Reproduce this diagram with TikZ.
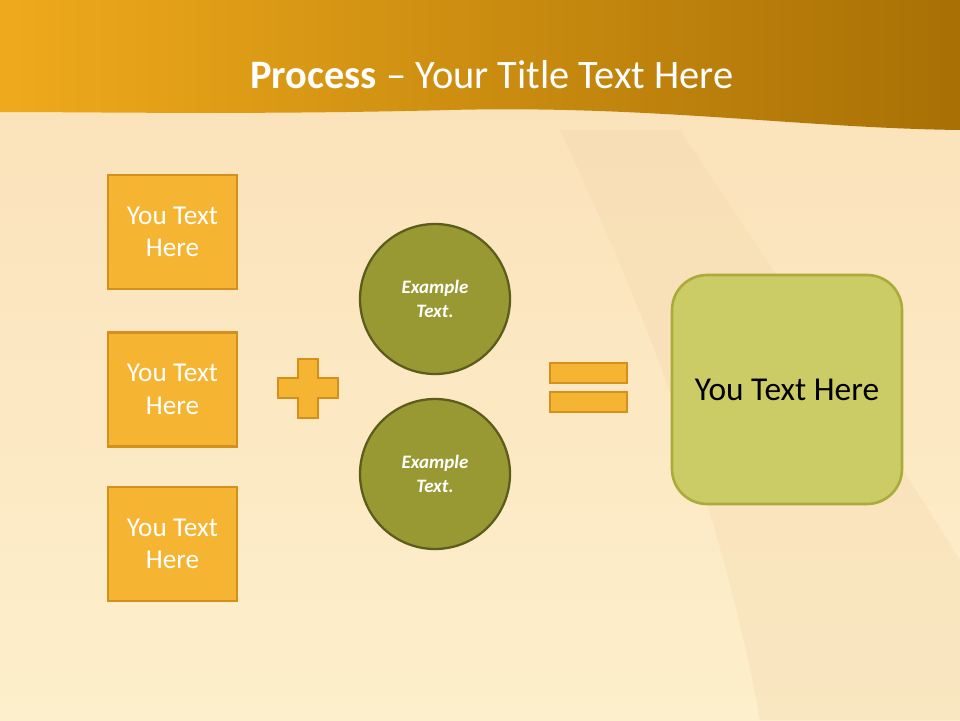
\documentclass[tikz,border=0pt]{standalone}
\usepackage{fontspec}
\setmainfont{Carlito}
\definecolor{bg}{HTML}{FDEFCB}
\definecolor{bg2}{HTML}{FAE0B8}
\definecolor{hdrA}{HTML}{EFAA1C}
\definecolor{hdrB}{HTML}{A87005}
\definecolor{boxf}{HTML}{F5B431}
\definecolor{boxd}{HTML}{D4901A}
\definecolor{olf}{HTML}{999933}
\definecolor{old}{HTML}{5C5C1C}
\definecolor{grf}{HTML}{CCCC66}
\definecolor{grd}{HTML}{ABAB3C}
\tikzset{
 ybox/.style={draw=boxd,line width=1.5pt,fill=boxf,minimum width=2.58cm,minimum height=2.28cm,text=white,font=\fontsize{15.5}{18.5}\selectfont,align=center},
 olc/.style={circle,draw=old,line width=1.3pt,fill=olf,minimum size=3cm,text=white,font=\fontsize{10.8}{13.5}\selectfont\bfseries\itshape,align=center},
 bar/.style={draw=boxd,line width=1.2pt,fill=boxf}
}
\begin{document}
\begin{tikzpicture}[x=0.02cm,y=-0.02cm]
\useasboundingbox (0,0) rectangle (960,720);
\shade[top color=bg2,bottom color=bg] (0,0) rectangle (960,720);
\fill[bg2!85!brown,opacity=0.25] (560,130) .. controls (640,300) and (720,500) .. (760,720) -- (960,720) -- (960,560) .. controls (860,400) and (760,250) .. (680,130) -- cycle;
\shade[left color=hdrA,right color=hdrB] (0,0) -- (960,0) -- (960,130) .. controls (800,128) and (650,105) .. (450,110) .. controls (250,115) and (100,112) .. (0,112) -- cycle;
\node[text=white,font=\fontsize{23}{26}\selectfont] (title) at (492,75) {\textbf{Process} – Your Title Text Here};
\node[ybox] (b1) at (172.5,232) {You Text\\Here};
\node[ybox] (b2) at (172.5,389.5) {You Text\\Here};
\node[ybox] (b3) at (172.5,544) {You Text\\Here};
\draw[bar] (298,359) -- (318,359) -- (318,378) -- (338,378) -- (338,398) -- (318,398) -- (318,418) -- (298,418) -- (298,398) -- (278,398) -- (278,378) -- (298,378) -- cycle;
\node[olc] (c1) at (435,299) {Example\\Text.};
\node[olc] (c2) at (435,474) {Example\\Text.};
\draw[bar] (550,363) rectangle (627,383);
\draw[bar] (550,392) rectangle (627,412);
\node[draw=grd,line width=1.5pt,fill=grf,rounded corners=0.7cm,minimum width=4.6cm,minimum height=4.58cm,font=\fontsize{19}{22}\selectfont] (res) at (787,389.5) {You Text Here};
\end{tikzpicture}
\end{document}
